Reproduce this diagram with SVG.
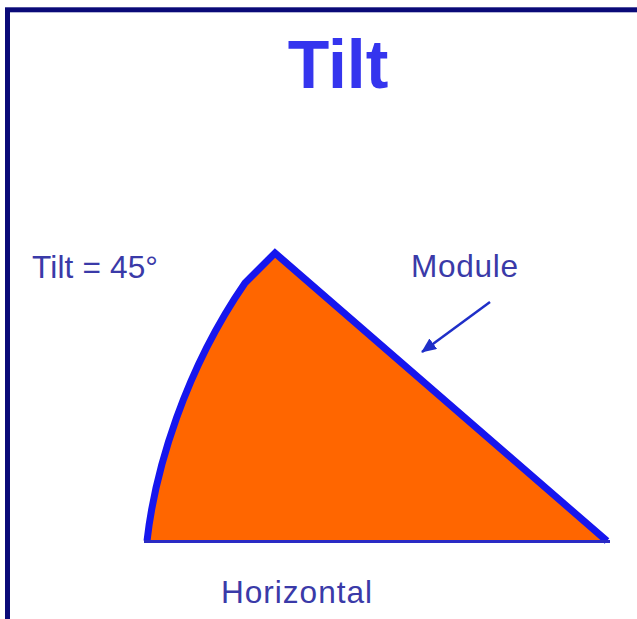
<svg xmlns="http://www.w3.org/2000/svg" width="637" height="619" viewBox="0 0 637 619">
<style>
.lbl{font-family:"Liberation Sans",Arial,sans-serif;fill:#3a3aa8;font-size:31.6px}
.title{font-family:"Liberation Sans",Arial,sans-serif;font-weight:bold;fill:#3535ee;font-size:68px}
</style>
<defs>
<marker id="ah" markerWidth="15" markerHeight="13" refX="14" refY="6.5" orient="auto" markerUnits="userSpaceOnUse" viewBox="0 0 15 13">
<path d="M0,0 L15,6.5 L0,13 Z" fill="#1f2fc8"/>
</marker>
</defs>
<rect x="0" y="0" width="637" height="619" fill="#ffffff"/>
<rect id="frame" x="7.5" y="9.8" width="660" height="640" fill="none" stroke="#0a0a78" stroke-width="5"/>
<g id="title"><text class="title" x="338" y="88" text-anchor="middle">Tilt</text></g>
<g id="module-shape">
<path d="M147,541 C155,470 185,370 245,283 L275,253 L607,541 Z" fill="#ff6600" stroke="none"/>
<path d="M147,541 C155,470 185,370 245,283 L275,253 L607,541" fill="none" stroke="#1616ee" stroke-width="7" stroke-linejoin="miter"/>
<line x1="144" y1="541.5" x2="610" y2="541.5" stroke="#2a2ac4" stroke-width="3"/>
</g>
<g id="tilt-label"><text class="lbl" x="32" y="278" textLength="126" lengthAdjust="spacing">Tilt = 45°</text></g>
<g id="module-label"><text class="lbl" x="411" y="277" font-size="32.6" textLength="107" lengthAdjust="spacing">Module</text></g>
<g id="horizontal-label"><text class="lbl" x="221" y="603" font-size="33.3" textLength="151" lengthAdjust="spacing">Horizontal</text></g>
<g id="connectors">
<line x1="490" y1="302" x2="422" y2="352" stroke="#1f2fc8" stroke-width="2.5" marker-end="url(#ah)"/>
</g>
</svg>
